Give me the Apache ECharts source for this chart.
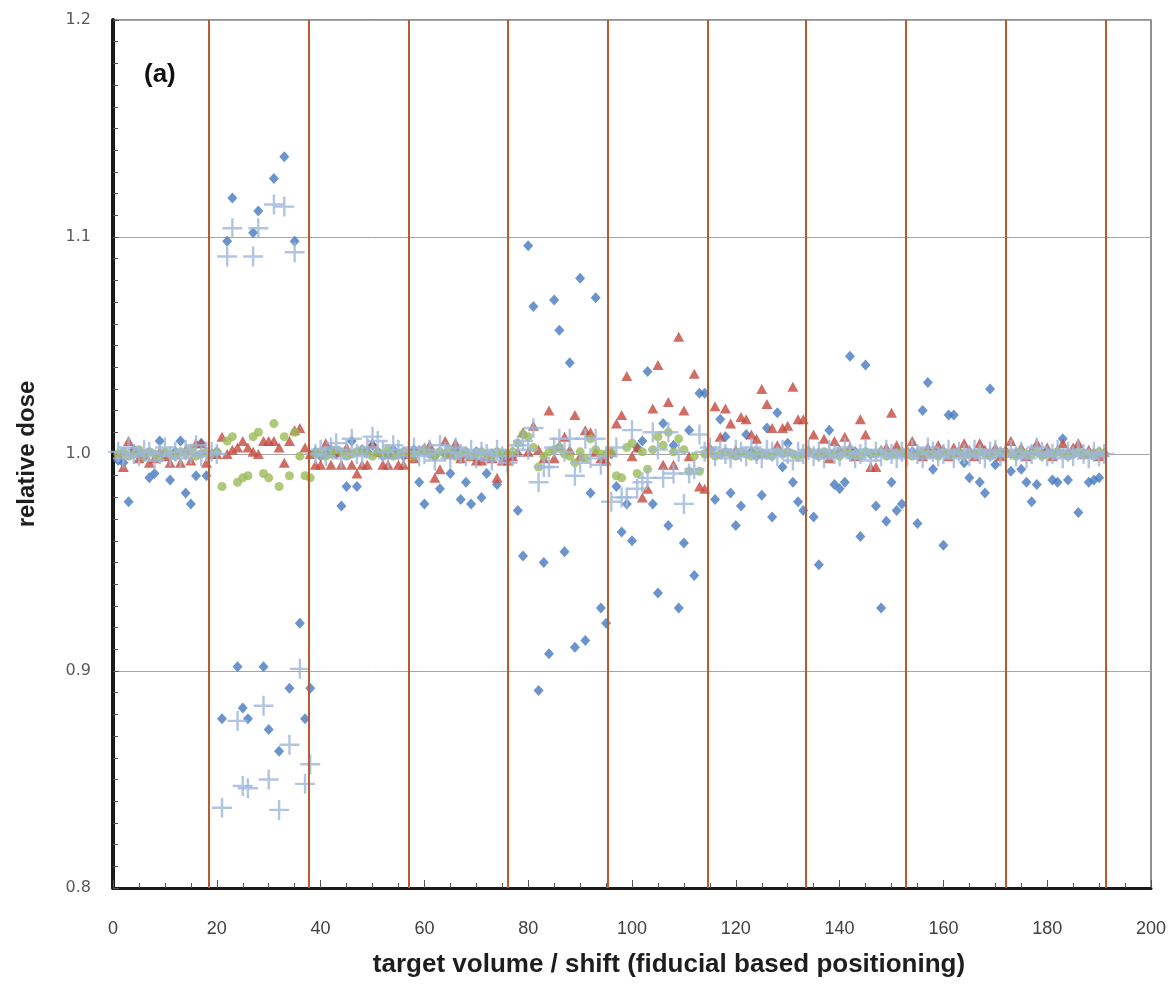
<!DOCTYPE html>
<html><head><meta charset="utf-8">
<script src="https://cdn.jsdelivr.net/npm/echarts/dist/echarts.min.js"></script>
<style>html,body{margin:0;padding:0;background:#fff}#c{width:1176px;height:986px}</style>
</head><body><div id="c"></div>
<script>
// x = index + 1 (target volume / shift number)
const blueDiamond = [
 0.997,0.996,0.978,1.002,1.001,0.999,0.989,0.991,1.006,1.000,
 0.988,1.001,1.006,0.982,0.977,0.990,1.005,0.990,1.000,1.001,
 0.878,1.098,1.118,0.902,0.883,0.878,1.102,1.112,0.902,0.873,
 1.127,0.863,1.137,0.892,1.098,0.922,0.878,0.892,1.001,0.999,
 1.000,1.002,1.000,0.976,0.985,1.006,0.985,1.002,1.001,1.004,
 1.001,0.999,1.000,1.002,1.000,0.999,1.000,1.002,0.987,0.977,
 1.001,0.999,0.984,1.000,0.991,1.002,0.979,0.987,0.977,1.001,
 0.980,0.991,1.000,0.986,0.999,1.000,0.999,0.974,0.953,1.096,
 1.068,0.891,0.950,0.908,1.071,1.057,0.955,1.042,0.911,1.081,
 0.914,0.982,1.072,0.929,0.922,1.000,0.985,0.964,0.977,0.960,
 1.003,1.006,1.038,0.977,0.936,1.014,0.967,1.004,0.929,0.959,
 1.011,0.944,1.028,1.028,1.002,0.979,1.016,1.008,0.982,0.967,
 0.976,1.009,1.001,0.999,0.981,1.012,0.971,1.019,0.994,1.005,
 0.987,0.978,0.974,1.001,0.971,0.949,1.000,1.011,0.986,0.984,
 0.987,1.045,1.001,0.962,1.041,1.000,0.976,0.929,0.969,0.987,
 0.974,0.977,1.000,1.001,0.968,1.020,1.033,0.993,1.000,0.958,
 1.018,1.018,1.001,0.996,0.989,1.000,0.987,0.982,1.030,0.995,
 1.000,1.001,0.992,1.000,0.993,0.987,0.978,0.986,1.000,1.001,
 0.988,0.987,1.007,0.988,1.000,0.973,1.000,0.987,0.988,0.989,
 1.000
];
const redTriangle = [
 1.000,0.994,1.006,1.002,0.998,1.000,0.996,0.998,1.001,0.999,
 0.996,1.000,0.996,1.002,0.997,1.005,1.005,0.996,1.000,1.000,
 1.008,1.000,1.002,1.003,1.006,1.003,1.001,1.000,1.006,1.006,
 1.006,1.003,0.996,1.006,1.011,1.012,1.003,1.000,0.995,0.995,
 1.005,0.995,1.001,0.995,1.003,0.995,0.991,0.995,0.995,1.005,
 1.001,0.995,0.995,1.000,0.995,0.995,1.000,0.998,1.002,1.003,
 1.004,0.989,0.993,1.006,1.000,1.005,0.998,1.000,0.999,0.997,
 0.997,0.999,0.998,0.989,0.997,0.997,0.999,1.001,1.010,1.001,
 1.013,1.002,0.998,1.020,0.998,1.004,1.008,1.002,1.018,0.999,
 1.011,1.010,1.001,0.998,0.997,1.001,1.014,1.018,1.036,0.999,
 1.003,0.980,0.984,1.021,1.041,0.995,1.024,0.995,1.054,1.020,
 0.999,1.037,0.985,0.984,1.003,1.022,1.008,1.021,1.014,1.002,
 1.017,1.016,1.009,1.007,1.030,1.023,1.012,1.004,1.012,1.013,
 1.031,1.016,1.016,1.002,1.009,1.001,1.007,0.998,1.006,1.002,
 1.008,1.003,0.999,1.016,1.009,0.994,0.994,1.002,1.003,1.019,
 1.004,1.001,1.002,1.006,1.001,0.999,1.003,1.001,1.004,1.002,
 0.999,1.003,1.001,1.005,1.002,0.999,1.005,1.002,1.001,1.003,
 0.999,1.002,1.006,1.001,1.003,0.999,1.002,1.005,1.001,1.003,
 0.999,1.002,1.005,1.001,1.003,1.005,1.000,1.002,1.001,0.999,
 1.001
];
const greenCircle = [
 1.000,1.001,0.999,1.000,1.002,0.999,1.001,1.000,0.998,1.001,
 1.000,0.999,1.001,1.000,1.002,0.999,1.000,1.001,1.000,1.001,
 0.985,1.006,1.008,0.987,0.989,0.990,1.008,1.010,0.991,0.989,
 1.014,0.985,1.008,0.990,1.010,0.999,0.990,0.989,1.000,1.001,
 0.999,1.000,1.002,1.001,0.999,1.000,1.001,1.002,1.000,0.999,
 1.001,1.000,1.002,0.999,1.000,1.001,1.000,0.999,1.001,1.002,
 1.000,0.999,1.001,1.000,1.002,0.999,1.000,1.001,0.999,1.000,
 1.001,1.000,0.999,1.001,1.000,1.000,1.001,1.005,1.009,1.008,
 1.003,0.994,0.999,1.001,1.002,1.003,1.000,0.999,0.996,1.001,
 0.998,1.007,1.002,1.000,1.000,1.001,0.990,0.989,1.003,1.005,
 0.991,1.001,0.993,1.002,1.008,1.004,1.010,1.001,1.007,1.002,
 0.992,0.999,0.992,1.000,1.001,0.999,1.000,1.001,1.000,0.999,
 1.001,1.000,0.999,1.001,1.000,1.000,0.999,1.001,1.000,1.001,
 1.000,0.999,1.000,1.001,1.000,0.999,1.001,1.000,1.000,0.999,
 1.001,1.000,1.000,0.999,1.001,1.000,1.000,1.001,0.999,1.000,
 1.000,1.001,1.000,0.999,1.000,1.001,1.000,1.000,0.999,1.001,
 1.000,1.000,1.001,0.999,1.000,1.000,1.001,1.000,0.999,1.000,
 1.001,1.000,1.000,0.999,1.001,1.000,1.000,1.001,0.999,1.000,
 1.000,1.001,1.000,0.999,1.000,1.001,1.000,1.000,0.999,1.001,
 1.000
];
const lightCross = [
 1.001,0.998,1.003,1.000,0.999,1.002,1.001,0.997,1.000,1.003,
 0.999,1.001,0.998,1.002,1.000,1.004,0.999,1.001,1.001,1.000,
 0.837,1.091,1.104,0.877,0.847,0.846,1.091,1.104,0.884,0.850,
 1.115,0.836,1.114,0.866,1.093,0.901,0.848,0.857,1.000,1.002,
 0.999,1.003,1.005,0.998,1.002,1.007,1.000,0.999,1.003,1.008,
 1.006,1.001,0.998,1.004,1.002,0.999,1.001,1.003,0.999,1.000,
 1.002,0.997,1.004,1.001,0.998,1.003,1.000,0.999,1.002,0.998,
 1.001,1.000,0.997,1.002,0.999,0.996,0.999,1.004,1.006,1.002,
 1.012,0.987,0.994,0.994,1.003,1.007,1.001,1.007,0.990,0.996,
 1.007,0.998,1.007,0.995,0.999,0.978,1.003,0.980,0.980,1.011,
 0.984,0.987,0.989,1.010,1.002,0.989,1.010,0.991,1.001,0.977,
 0.991,0.993,1.009,1.001,1.003,0.999,1.002,1.000,0.998,1.002,
 1.001,0.999,1.003,1.000,0.998,1.002,1.001,0.999,1.002,1.000,
 0.997,1.001,1.000,1.002,0.999,1.001,0.998,1.002,1.000,0.999,
 1.003,1.001,0.998,1.000,1.002,0.997,1.001,0.999,1.002,1.000,
 0.998,1.001,0.999,1.002,1.000,0.998,1.003,1.001,0.999,1.000,
 1.002,0.998,1.001,1.000,0.999,1.002,1.000,0.998,1.001,1.002,
 0.999,1.000,1.002,0.999,1.001,0.998,1.000,1.003,1.001,0.999,
 1.000,1.002,0.998,1.001,0.999,1.002,1.000,0.998,1.001,0.999,
 1.000
];
// vertical group separators (x positions)
const separators = [18.4, 37.7, 57.0, 76.1, 95.4, 114.6, 133.5, 152.7, 172.0, 191.3];
const xTickLabels = [0,20,40,60,80,100,120,140,160,180,200];
const yTickLabels = [0.8,0.9,1.0,1.1,1.2];

const toXY = arr => arr.map((v, i) => [i + 1, v]);
const chart = echarts.init(document.getElementById('c'), null, {renderer: 'canvas'});
const crossPath = 'path://M-1.2,-10H1.2V-1.2H10V1.2H1.2V10H-1.2V1.2H-10V-1.2H-1.2Z';

chart.setOption({
  animation: false,
  backgroundColor: '#ffffff',
  grid: {left: 113, right: 25, top: 20, bottom: 98, show: true, borderColor: '#6e6e6e', borderWidth: 1.5},
  xAxis: {
    type: 'value', min: xTickLabels[0], max: xTickLabels[xTickLabels.length - 1], interval: 20,
    name: 'target volume / shift (fiducial based positioning)', nameLocation: 'middle', nameGap: 64,
    nameTextStyle: {fontFamily: 'Liberation Sans', fontWeight: 'bold', fontSize: 26, color: '#1e1e1e', padding: [0, 0, 0, 74]},
    axisLine: {show: true, onZero: false, lineStyle: {color: '#1a1a1a', width: 3}},
    axisTick: {show: true, inside: true, length: 8, lineStyle: {color: '#555', width: 1}},
    minorTick: {show: true, splitNumber: 4, length: 5, lineStyle: {color: '#555', width: 1}},
    axisLabel: {margin: 32, fontSize: 18, color: '#404040', fontFamily: 'Liberation Sans'},
    splitLine: {show: false}
  },
  yAxis: {
    type: 'value', min: yTickLabels[0], max: yTickLabels[yTickLabels.length - 1], interval: 0.1,
    name: 'relative dose', nameLocation: 'middle', nameGap: 74, nameRotate: 90,
    nameTextStyle: {fontFamily: 'Liberation Sans', fontWeight: 'bold', fontSize: 24, color: '#1e1e1e'},
    axisLine: {show: true, onZero: false, lineStyle: {color: '#1a1a1a', width: 4}},
    axisTick: {show: true, inside: true, length: 6, lineStyle: {color: '#555', width: 1}},
    minorTick: {show: true, splitNumber: 10, length: 5, lineStyle: {color: '#555', width: 1}},
    axisLabel: {margin: 22, fontSize: 16, color: '#595959', fontFamily: 'DejaVu Sans', formatter: v => v.toFixed(1)},
    splitLine: {show: true, lineStyle: {color: '#a6a6a6', width: 1}}
  },
  graphic: [{type: 'text', left: 144, top: 62, style: {text: '(a)', font: 'bold 26px "Liberation Sans"', fill: '#111'}}],
  series: [
    {type: 'scatter', data: toXY(blueDiamond), symbol: 'diamond', symbolSize: [10, 11],
     itemStyle: {color: '#4679c0'},
     markLine: {silent: true, animation: false, symbol: ['none', 'none'], label: {show: false},
       lineStyle: {color: '#b95b2e', width: 2, type: 'solid'},
       data: separators.map(v => ({xAxis: v}))}},
    {type: 'scatter', data: toXY(redTriangle), symbol: 'triangle', symbolSize: [11, 10], itemStyle: {color: '#c4483f'}},
    {type: 'scatter', data: toXY(greenCircle), symbol: 'circle', symbolSize: 9, itemStyle: {color: '#9bbb59'}},
    {type: 'scatter', data: toXY(lightCross), symbol: crossPath, symbolSize: 20, itemStyle: {color: '#9db6dc'}}
  ]
});
</script>
</body></html>
